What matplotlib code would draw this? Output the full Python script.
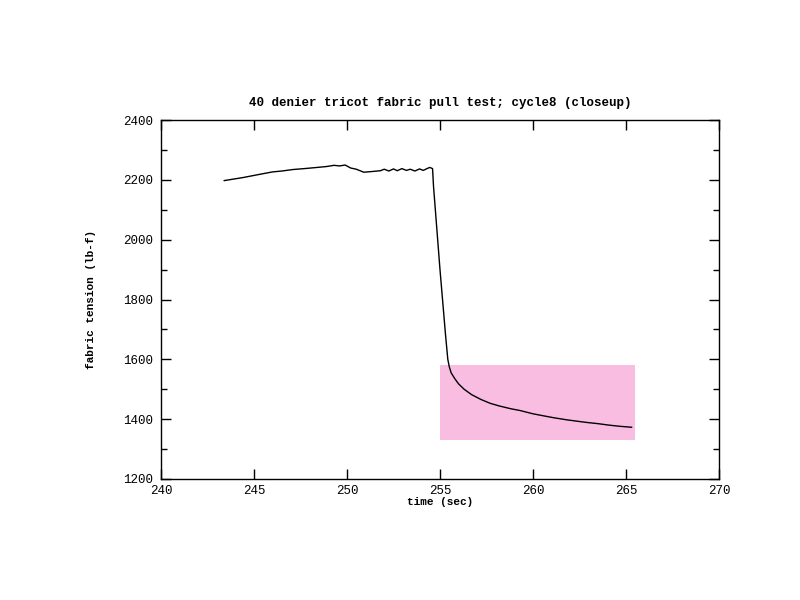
import matplotlib
matplotlib.use("Agg")
import matplotlib.pyplot as plt
from matplotlib.ticker import MultipleLocator

# time (sec) and tension (lb-f)
time_sec = [243.4, 243.9, 244.4, 244.9, 245.4, 246.0, 246.5, 247.1, 247.7,
            248.4, 248.9, 249.3, 249.6, 249.9, 250.2, 250.5, 250.9, 251.3,
            251.8, 252.0, 252.25, 252.5, 252.7, 252.95, 253.2, 253.4, 253.65,
            253.9, 254.1, 254.3, 254.45, 254.6, 254.65, 254.75, 254.85,
            255.0, 255.15, 255.3, 255.42, 255.5, 255.6, 255.8, 256.0, 256.3,
            256.7, 257.2, 257.7, 258.2, 258.8, 259.3, 260.0, 260.5, 261.1,
            261.8, 262.4, 262.9, 263.5, 264.1, 264.7, 265.3]
tension = [2198, 2203, 2208, 2214, 2220, 2227, 2230, 2235, 2238,
           2242, 2245, 2249, 2247, 2250, 2240, 2236, 2226, 2228,
           2231, 2236, 2230, 2237, 2231, 2238, 2232, 2236, 2230,
           2237, 2232, 2238, 2242, 2238, 2180, 2100, 2020,
           1900, 1790, 1680, 1600, 1575, 1555, 1535, 1518, 1500,
           1482, 1466, 1453, 1444, 1435, 1429, 1418, 1412, 1405,
           1398, 1393, 1389, 1385, 1380, 1376, 1373]

# highlighted region
box_x = [255.0, 265.5]
box_y = [1332, 1582]

plt.rcParams['font.family'] = ['Liberation Mono', 'DejaVu Sans Mono']

fig = plt.figure(figsize=(8, 6), dpi=100)
ax = fig.add_axes([0.20125, 0.2017, 0.6975, 0.598])

ax.axvspan(box_x[0], box_x[1], ymin=(box_y[0] - 1200) / 1200, ymax=(box_y[1] - 1200) / 1200,
           color='#f9bde1', lw=0, zorder=1)
ax.plot(time_sec, tension, color='black', lw=1, zorder=2)

ax.set_xlim(240, 270)
ax.set_ylim(1200, 2400)
ax.xaxis.set_major_locator(MultipleLocator(5))
ax.yaxis.set_major_locator(MultipleLocator(200))
ax.yaxis.set_minor_locator(MultipleLocator(100))
ax.tick_params(which='major', direction='in', length=7, width=1, top=True, right=True,
               labelsize=9, pad=6)
ax.tick_params(axis='x', which='major', pad=4)
ax.tick_params(which='minor', direction='in', length=4, width=1, left=True, right=True)
for s in ax.spines.values():
    s.set_linewidth(1)

ax.set_title("40 denier tricot fabric pull test; cycle8 (closeup)", fontsize=9,
             fontweight='bold', pad=10)
ax.set_xlabel("time (sec)", fontsize=8, fontweight='bold', labelpad=0)
ax.set_ylabel("fabric tension (lb-f)", fontsize=8, fontweight='bold', labelpad=19)

fig.savefig("out.png", dpi=100)
